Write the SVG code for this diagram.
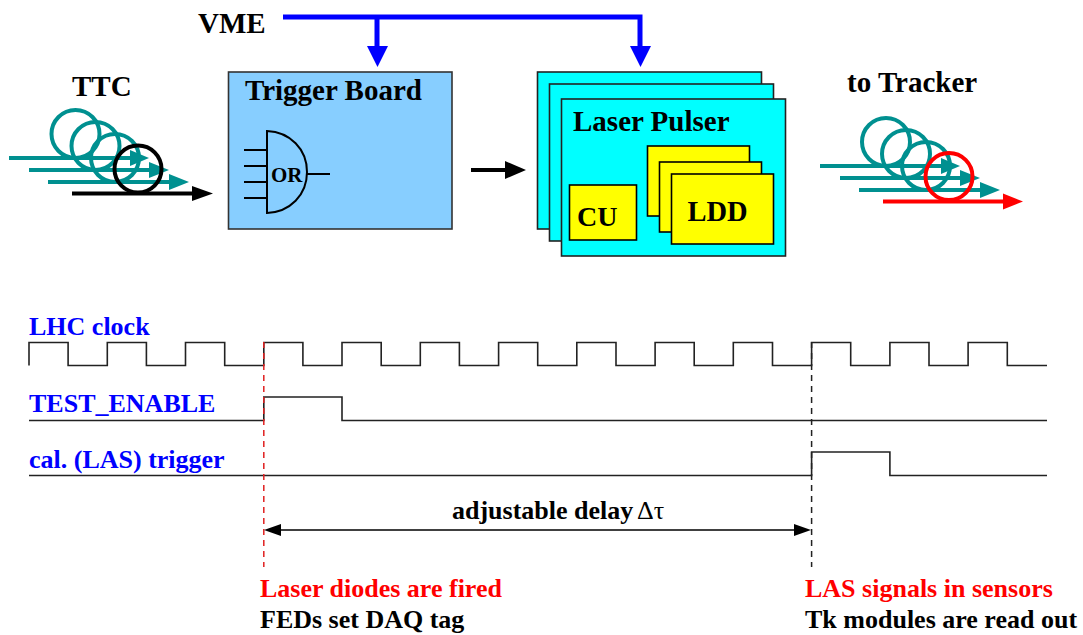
<svg xmlns="http://www.w3.org/2000/svg" width="1083" height="635" viewBox="0 0 1083 635">
<style>
text{font-family:"Liberation Serif","Times New Roman",serif;font-weight:bold;fill:#000}
.t{font-size:29px}.s{font-size:26px}.b{fill:#0000ff}.r{fill:#ff0000}
.sig{fill:none;stroke:#222;stroke-width:1.6}
.coil{fill:none;stroke:#009090;stroke-width:4}
.teal{stroke:#009090;stroke-width:4}
.lp{fill:#00ffff;stroke:#222;stroke-width:1.6}
.ye{fill:#ffff00;stroke:#000;stroke-width:1.6}
.g{fill:none;stroke:#000;stroke-width:2}
</style>
<rect width="1083" height="635" fill="#fff"/>
<g id="vme"><text class="t" x="198" y="33">VME</text></g>
<g id="connectors">
<path d="M283 17H640V50M377 17V50" fill="none" stroke="#0000ff" stroke-width="5"/>
<path d="M367 46H388L377.500 67ZM630 46H651L640.500 67Z" fill="#0000ff"/>
<path d="M471 170H507" stroke="#000" stroke-width="4"/><path d="M505 161L526 170L505 179Z" fill="#000"/>
</g>
<g id="ttc">
<text class="t" x="72" y="96">TTC</text>
<circle class="coil" cx="75.500" cy="134" r="24"/><circle class="coil" cx="95.500" cy="146" r="24"/><circle class="coil" cx="115" cy="158" r="24"/>
<path class="teal" d="M9 158H135M29 170H155M48 182H172"/>
<path d="M130 150L149 158L130 166ZM149 162L169 170L149 178ZM169 174L189 182L169 190Z" fill="#009090"/>
<circle cx="138" cy="169" r="23.500" fill="none" stroke="#000" stroke-width="4"/>
<path d="M72 193.500H195" stroke="#000" stroke-width="4"/><path d="M192 186L213 193.500L192 201Z" fill="#000"/>
</g>
<g id="trigger-board">
<rect x="228.500" y="72" width="223.500" height="157" fill="#87ceff" stroke="#333" stroke-width="1.600"/>
<text class="t" x="245" y="100">Trigger Board</text>
<path class="g" d="M267 131V213C290 212 307 195 307 172C307 149 290 132 267 131Z"/>
<path class="g" d="M244 150H267M244 166H267M244 182H267M244 198H267M307 174H330"/>
<text x="271" y="182" font-size="21">OR</text>
</g>
<g id="laser-pulser">
<rect class="lp" x="537.500" y="72" width="224" height="157"/>
<rect class="lp" x="549.500" y="84" width="224" height="157"/>
<rect class="lp" x="561.500" y="99" width="224" height="157"/>
<text class="t" x="573" y="131">Laser Pulser</text>
<rect class="ye" x="569.500" y="185" width="67" height="55"/>
<text x="577" y="226" font-size="28">CU</text>
<rect class="ye" x="647.500" y="146" width="102" height="70"/>
<rect class="ye" x="659.500" y="162" width="102" height="70"/>
<rect class="ye" x="671.500" y="174" width="102" height="70"/>
<text x="687.500" y="221" font-size="28.500">LDD</text>
</g>
<g id="to-tracker">
<text class="t" x="847" y="92">to Tracker</text>
<circle class="coil" cx="886" cy="142" r="24"/><circle class="coil" cx="906" cy="154" r="24"/><circle class="coil" cx="926" cy="166" r="24"/>
<path class="teal" d="M820 166H945M840 178H965M859 190H985"/>
<path d="M941 158L960 166L941 174ZM960 170L980 178L960 186ZM980 182L1000 190L980 198Z" fill="#009090"/>
<circle cx="949" cy="176.500" r="23.500" fill="none" stroke="#ff0000" stroke-width="4"/>
<path d="M883 201.500H1005" stroke="#ff0000" stroke-width="4"/><path d="M1003 193.500L1023 201.500L1003 209.500Z" fill="#ff0000"/>
</g>
<g id="timing">
<path id="clock" class="sig" d="M29 365.500V342.500H68.100V365.500H107.300V342.500H146.400V365.500H185.500V342.500H224.700V365.500H263.800V342.500H302.900V365.500H342V342.500H381.200V365.500H420.300V342.500H459.400V365.500H498.600V342.500H537.700V365.500H576.800V342.500H616V365.500H655.100V342.500H694.200V365.500H733.300V342.500H772.500V365.500H811.600V342.500H850.700V365.500H889.900V342.500H929V365.500H968.100V342.500H1007.300V365.500H1047"/>
<path id="test-enable" class="sig" d="M29 420.500H263.800V397H342V420.500H1047"/>
<path id="cal-trigger" class="sig" d="M29 475.500H811.600V452H889.900V475.500H1047"/>
<path d="M263.800 342V567" fill="none" stroke="#e02020" stroke-width="1.500" stroke-dasharray="6 5"/>
<path d="M811.600 342V567" fill="none" stroke="#222" stroke-width="1.500" stroke-dasharray="6 5"/>
<path d="M276 530H800" stroke="#000" stroke-width="1.600"/>
<path d="M264 530L281 524V536ZM811 530L794 524V536Z" fill="#000"/>
<text class="s b" x="29" y="335">LHC clock</text>
<text class="s b" x="29" y="412">TEST_ENABLE</text>
<text class="s b" x="29" y="468">cal. (LAS) trigger</text>
<text class="s" x="452" y="519">adjustable delay</text>
<text x="637" y="519" font-size="26" style="font-weight:normal">Δτ</text>
<text class="s r" x="260" y="597">Laser diodes are fired</text>
<text class="s" x="260" y="628">FEDs set DAQ tag</text>
<text class="s r" x="805" y="597">LAS signals in sensors</text>
<text class="s" x="805" y="628">Tk modules are read out</text>
</g>
</svg>
